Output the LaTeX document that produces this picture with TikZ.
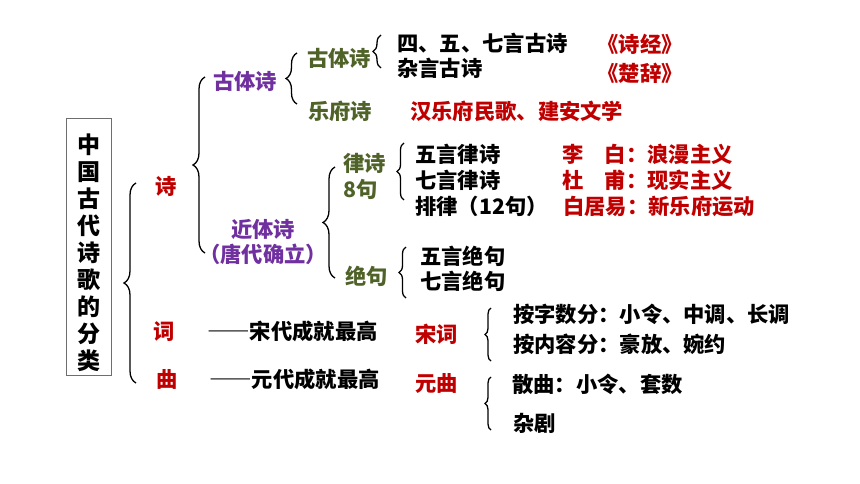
\documentclass[tikz,border=0pt]{standalone}
\usepackage{fontspec}
\setmainfont{Noto Sans CJK SC}
\newfontfamily\fwfont{Noto Sans CJK SC}[RawFeature=+fwid]
\usetikzlibrary{decorations.pathreplacing}
\definecolor{cred}{RGB}{192,0,0}
\definecolor{cpur}{RGB}{112,48,160}
\definecolor{cgrn}{RGB}{79,98,40}
\definecolor{cbox}{RGB}{110,110,110}
\newcommand{\fwdash}{{\fwfont\bfseries ——}}
\tikzset{
  txt/.style={inner sep=0pt, text height=0.86em, text depth=0.1em, yshift=-5.5pt, font=\fontsize{21.3}{24}\selectfont\bfseries},
  lt/.style={txt, anchor=west},
  boxchar/.style={inner sep=0pt, yshift=-3pt, font=\fontsize{23}{27}\selectfont\bfseries},
  brc/.style={draw, line width=1.3pt, decorate, decoration={brace, amplitude=#1}},
}
\begin{document}
\begin{tikzpicture}[x=1pt,y=-1pt]
\path[use as bounding box, fill=white] (0,0) rectangle (860,484);

% title box
\node[draw=cbox, line width=1pt, minimum width=45pt, minimum height=256pt, inner sep=0pt] (box) at (88.5,247) {};
\foreach \c [count=\i] in {中,国,古,代,诗,歌,的,分,类}
  \node[boxchar] (v\i) at (88.5,115+27*\i) {\c};

% level 1
\node[lt, cred] (shi) at (155,185) {诗};
\node[lt, cred] (ci) at (153,330) {词};
\node[lt, cred] (qu) at (156,378) {曲};
\node[lt] (cidesc) at (207,330) {\fwdash 宋代成就最高};
\node[lt] (qudesc) at (209,378) {\fwdash 元代成就最高};

% level 2
\node[lt, cpur] (gt1) at (213,80) {古体诗};
\node[txt, cpur] (jt) at (263,228) {近体诗};
\node[txt, cpur] (tang) at (263,253) {（唐代确立）};

% 古体诗 branch
\node[lt, cgrn] (gt2) at (307,57) {古体诗};
\node[lt, cgrn] (yf) at (308,110) {乐府诗};
\node[lt] (gs1) at (397,42) {四、五、七言古诗};
\node[lt] (gs2) at (397,67) {杂言古诗};
\node[txt, cred] (sj) at (640,43) {《诗经》};
\node[txt, cred] (cc) at (640,72) {《楚辞》};
\node[lt, cred] (hyf) at (410,110) {汉乐府民歌、建安文学};

% 近体诗 branch
\node[lt, cgrn] (lv) at (343,162) {律诗};
\node[lt, cgrn] (lv8) at (343,188) {8句};
\node[lt, cgrn] (jj) at (345,275) {绝句};
\node[lt] (lv1) at (415,153) {五言律诗};
\node[lt] (lv2) at (415,179) {七言律诗};
\node[lt] (lv3) at (415,205) {排律（12句）};
\node[lt, cred] (p1) at (562,153) {李　白：浪漫主义};
\node[lt, cred] (p2) at (562,179) {杜　甫：现实主义};
\node[lt, cred] (p3) at (563,205) {白居易：新乐府运动};
\node[lt] (jj1) at (420,255) {五言绝句};
\node[lt] (jj2) at (420,280) {七言绝句};

% 词 曲 branch
\node[lt, cred] (sc) at (415,333) {宋词};
\node[lt, cred] (yq) at (415,382) {元曲};
\node[lt] (sc1) at (513,313) {按字数分：小令、中调、长调};
\node[lt] (sc2) at (513,343) {按内容分：豪放、婉约};
\node[lt] (yq1) at (512,383) {散曲：小令、套数};
\node[lt] (yq2) at (513,422) {杂剧};

% braces
\coordinate (b1a) at (136,383); \coordinate (b1b) at (136,183);
\coordinate (b2a) at (205,253); \coordinate (b2b) at (205,77);
\coordinate (b3a) at (297,104); \coordinate (b3b) at (297,53);
\coordinate (b4a) at (381,68);  \coordinate (b4b) at (381,35);
\coordinate (b5a) at (335,278); \coordinate (b5b) at (335,167);
\coordinate (b6a) at (404,200); \coordinate (b6b) at (404,143);
\coordinate (b7a) at (406,298); \coordinate (b7b) at (406,247);
\coordinate (b8a) at (491,361); \coordinate (b8b) at (491,308);
\coordinate (b9a) at (491,430); \coordinate (b9b) at (491,377);
\draw[brc=12pt] (b1a) -- (b1b);
\draw[brc=12pt] (b2a) -- (b2b);
\draw[brc=11pt] (b3a) -- (b3b);
\draw[brc=8pt]  (b4a) -- (b4b);
\draw[brc=12pt] (b5a) -- (b5b);
\draw[brc=7pt]  (b6a) -- (b6b);
\draw[brc=7pt]  (b7a) -- (b7b);
\draw[brc=6pt]  (b8a) -- (b8b);
\draw[brc=6pt]  (b9a) -- (b9b);
\end{tikzpicture}
\end{document}
